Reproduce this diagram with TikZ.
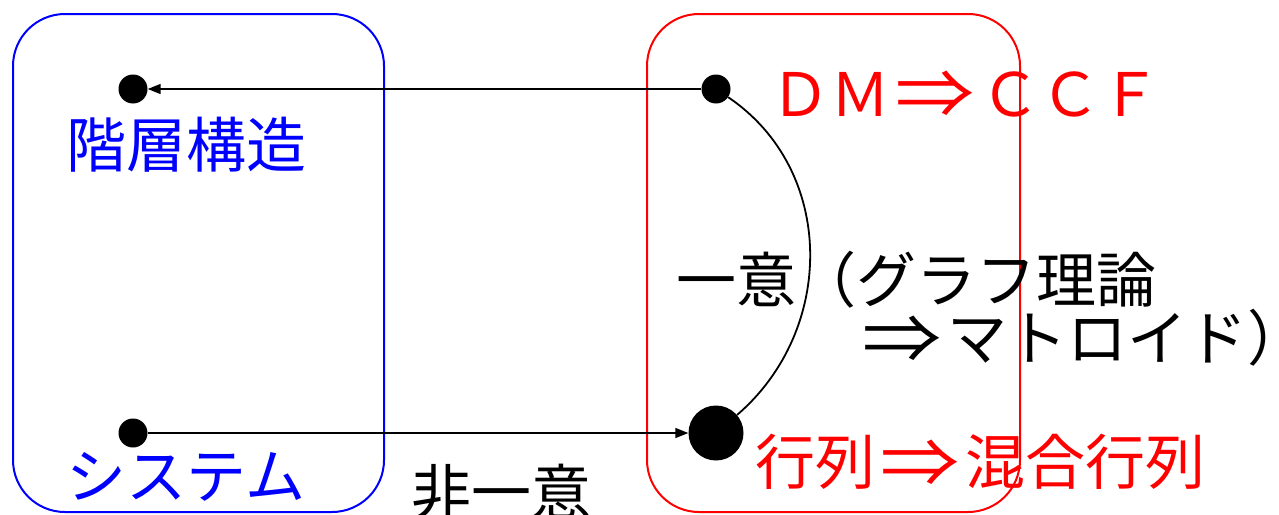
\documentclass[tikz,border=0pt]{standalone}
\usepackage{fontspec}
\usepackage{graphicx}
\setmainfont{Noto Sans CJK JP}
\usetikzlibrary{arrows.meta}
\newcommand{\fwarrow}{\makebox[1.5em]{\raisebox{-0.04em}{\scalebox{1.32}[1.12]{⇒}}}}
\tikzset{
  frame/.style={line width=2pt, rounded corners=52pt},
  dot/.style={circle, fill=black, inner sep=0pt, minimum size=29pt},
  bigdot/.style={circle, fill=black, inner sep=0pt, minimum size=55pt},
  lbl/.style={inner sep=0pt, font=\fontsize{60}{68}\selectfont},
  conn/.style={line width=1.5pt, -{Triangle[length=13pt,width=10pt]}}
}
\begin{document}
\begin{tikzpicture}[x=1pt,y=-1pt]
\useasboundingbox (0,0) rectangle (1279,514);
\draw[frame, blue] (13,14) rectangle (384,512);
\draw[frame, red] (647,14) rectangle (1020,512);
\node[dot] (h) at (133,89) {};
\node[dot] (s) at (133,433) {};
\node[dot] (d) at (716,89) {};
\node[bigdot] (m) at (716,433) {};
\draw[conn] (d) -- (h);
\draw[conn] (s) -- (m);
\draw[line width=1.8pt] (d) .. controls (836,170) and (836,330) .. (m);
\node[lbl, blue] (t1) at (186,145) {階層構造};
\node[lbl, blue] (t2) at (186,477) {システム};
\node[lbl, red] (t3) at (965,95) {ＤＭ\fwarrow ＣＣＦ};
\node[lbl, red] (t4) at (980,462) {行列\fwarrow 混合行列};
\node[lbl, anchor=west] (t5) at (676,280) {一意（グラフ理論};
\node[lbl, anchor=west] (t6) at (857,338) {\fwarrow マトロイド）};
\node[lbl] (t7) at (501,492) {非一意};
\end{tikzpicture}
\end{document}
